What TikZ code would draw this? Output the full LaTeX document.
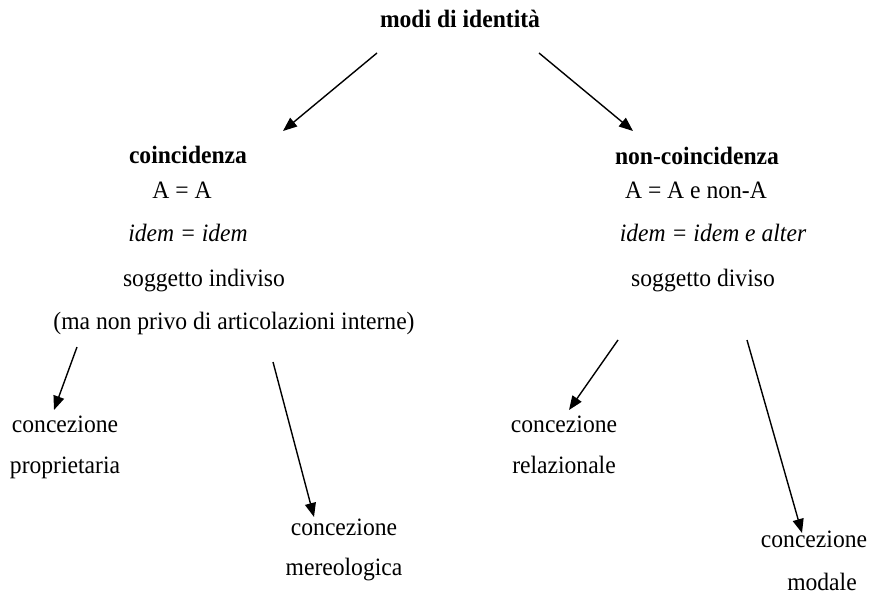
\documentclass[tikz,border=0pt]{standalone}
\usepackage{fontspec}
\setmainfont[FakeStretch=0.944]{Liberation Serif}
\usetikzlibrary{arrows.meta}
\begin{document}
\begin{tikzpicture}[x=1pt,y=-1pt,
  txt/.style={anchor=base,inner sep=0pt,font=\fontsize{25}{30}\selectfont},
  hd/.style={txt,font=\fontsize{25}{30}\selectfont\bfseries},
  it/.style={txt,font=\fontsize{25}{30}\selectfont\itshape},
  arr/.style={line width=1.4pt,-{Triangle[length=14pt,width=11pt]}}]
\useasboundingbox (0,0) rectangle (871,599);
% title
\node[hd] (title) at (460,28) {modi di identità};
% left branch
\node[hd] (coin) at (188,164) {coincidenza};
\node[txt] (coinA) at (182,199) {A = A};
\node[it] (coinI) at (188,242) {idem = idem};
\node[txt] (coinS) at (204,287) {soggetto indiviso};
\node[txt] (coinM) at (234,329) {(ma non privo di articolazioni interne)};
% right branch
\node[hd] (ncoin) at (697,165) {non-coincidenza};
\node[txt] (ncoinA) at (696,199) {A = A e non-A};
\node[it] (ncoinI) at (713,242) {idem = idem e alter};
\node[txt] (ncoinS) at (703,287) {soggetto diviso};
% leaves
\node[txt] (prop1) at (65,432) {concezione};
\node[txt] (prop2) at (65,473) {proprietaria};
\node[txt] (mer1) at (344,535) {concezione};
\node[txt] (mer2) at (344,575) {mereologica};
\node[txt] (rel1) at (564,432) {concezione};
\node[txt] (rel2) at (564,473) {relazionale};
\node[txt] (mod1) at (814,547) {concezione};
\node[txt] (mod2) at (822,590) {modale};
% arrow end points
\coordinate (t1s) at (377,53); \coordinate (t1e) at (283,131);
\coordinate (t2s) at (539,53); \coordinate (t2e) at (633,131);
\coordinate (l1s) at (77,347); \coordinate (l1e) at (54,410);
\coordinate (l2s) at (273,362); \coordinate (l2e) at (314,517);
\coordinate (r1s) at (618,340); \coordinate (r1e) at (569,410);
\coordinate (r2s) at (747,340); \coordinate (r2e) at (802,533);
\draw[arr] (t1s) -- (t1e);
\draw[arr] (t2s) -- (t2e);
\draw[arr] (l1s) -- (l1e);
\draw[arr] (l2s) -- (l2e);
\draw[arr] (r1s) -- (r1e);
\draw[arr] (r2s) -- (r2e);
\end{tikzpicture}
\end{document}
